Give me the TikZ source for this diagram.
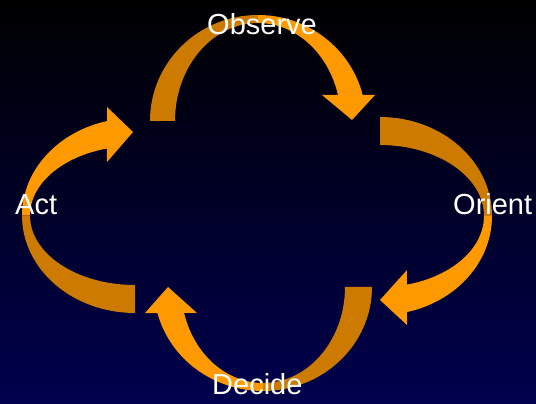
\documentclass[tikz,border=0pt]{standalone}
\usepackage{fontspec}
\setmainfont{Liberation Sans}
\definecolor{bgtop}{RGB}{0,0,0}
\definecolor{bgbot}{RGB}{0,0,78}
\definecolor{orbright}{RGB}{255,153,0}
\definecolor{ordark}{RGB}{204,122,0}
\tikzset{
  back/.style={fill=ordark},
  front/.style={fill=orbright},
  lab/.style={text=white, inner sep=0pt, anchor=base west, font=\fontsize{29}{34}\selectfont}
}
\begin{document}
\begin{tikzpicture}[x=1pt,y=1pt]
\useasboundingbox (0,0) rectangle (536,404);
\shade[top color=bgtop, bottom color=bgbot] (0,0) rectangle (536,404);

% Observe arrow (top)
\fill[back] (150,283) arc[start angle=180,end angle=90,x radius=108pt,y radius=106pt]
  -- (258,381) arc[start angle=90,end angle=180,x radius=83pt,y radius=98pt] -- cycle;
\fill[front] (258,389) arc[start angle=90,end angle=14.2,x radius=108pt,y radius=106pt]
  -- (375,309) -- (352,284) -- (322,309) -- (338,309)
  arc[start angle=15.4,end angle=90,x radius=83pt,y radius=98pt] -- cycle;

% Orient arrow (right)
\fill[back] (380,287) arc[start angle=90,end angle=0,x radius=112pt,y radius=99pt]
  -- (484,188) arc[start angle=0,end angle=90,x radius=104pt,y radius=71pt] -- cycle;
\fill[front] (492,188) arc[start angle=0,end angle=-76.05,x radius=112pt,y radius=99pt]
  -- (407,79) -- (380,104) -- (407,134) -- (406.9,119.4)
  arc[start angle=-75,end angle=0,x radius=104pt,y radius=71pt] -- cycle;

% Decide arrow (bottom)
\fill[back] (372,117) arc[start angle=0,end angle=-90,x radius=109pt,y radius=104pt]
  -- (263,21) arc[start angle=-90,end angle=0,x radius=82pt,y radius=96pt] -- cycle;
\fill[front] (263,13) arc[start angle=-90,end angle=-165.5,x radius=109pt,y radius=104pt]
  -- (145,91) -- (168,117) -- (197,91) -- (184.1,91)
  arc[start angle=-164.29,end angle=-90,x radius=82pt,y radius=96pt] -- cycle;

% Act arrow (left)
\fill[back] (135,91) arc[start angle=270,end angle=180,x radius=113pt,y radius=97.5pt]
  -- (30,188.5) arc[start angle=180,end angle=270,x radius=105pt,y radius=69.5pt] -- cycle;
\fill[front] (22,188.5) arc[start angle=180,end angle=104.3,x radius=113pt,y radius=97.5pt]
  -- (107,297) -- (133,272) -- (107,242) -- (106.9,255.5)
  arc[start angle=105.5,end angle=180,x radius=105pt,y radius=69.5pt] -- cycle;

\node[lab] (observe) at (207,369.5) {Observe};
\node[lab] (orient) at (453,189.5) {Orient};
\node[lab] (decide) at (212,9.5) {Decide};
\node[lab] (act) at (15,189.5) {Act};
\end{tikzpicture}
\end{document}
